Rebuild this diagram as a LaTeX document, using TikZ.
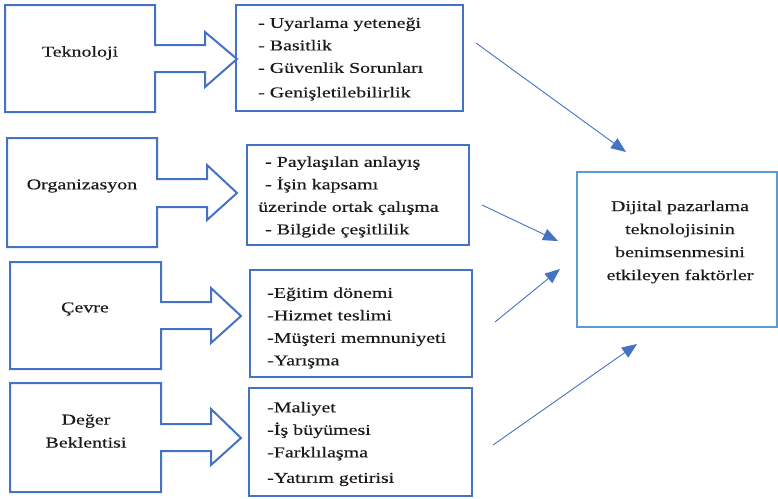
\documentclass[tikz,border=0pt]{standalone}
\usepackage{fontspec}
\setmainfont[FakeStretch=1.33,FakeBold=0.3]{Liberation Serif}
\usetikzlibrary{arrows.meta}
\definecolor{boxblue}{HTML}{4472C4}
\definecolor{lightblue}{HTML}{5B9BD5}
\definecolor{txt}{HTML}{1A1A1A}
\begin{document}
\begin{tikzpicture}[x=1pt,y=-1pt,
  outl/.style={draw=boxblue,line width=2pt,line join=miter},
  listbox/.style={draw=boxblue,line width=2pt,minimum width=#1,inner sep=0pt},
  lbl/.style={text=txt,font=\fontsize{15}{23}\selectfont,inner sep=0pt,align=center},
  items/.style={text=txt,font=\fontsize{15}{22.5}\selectfont,inner sep=0pt,align=left,anchor=west},
  conn/.style={draw=boxblue,line width=0.9pt,-{Triangle[length=15pt,width=12pt]}}]
\useasboundingbox (0,0) rectangle (778,498);
% left boxes with block arrows
\draw[outl] (5,5) -- (155,5) -- (155,45) -- (205,45) -- (205,32) -- (237,59) -- (205,87) -- (205,72) -- (155,72) -- (155,112) -- (5,112) -- cycle;
\draw[outl] (7,138) -- (157,138) -- (157,179) -- (207,179) -- (207,165) -- (237,193) -- (207,220) -- (207,207) -- (157,207) -- (157,247) -- (7,247) -- cycle;
\draw[outl] (10,262) -- (161,262) -- (161,302) -- (211,302) -- (211,288) -- (241,316) -- (211,343) -- (211,329) -- (161,329) -- (161,369) -- (10,369) -- cycle;
\draw[outl] (10,383) -- (161,383) -- (161,424) -- (211,424) -- (211,409) -- (241,438) -- (211,465) -- (211,451) -- (161,451) -- (161,492) -- (10,492) -- cycle;
\node[lbl] (tek) at (80,53) {Teknoloji};
\node[lbl] (org) at (82,186) {Organizasyon};
\node[lbl] (cev) at (85,309) {Çevre};
\node[lbl] (deg) at (86,431) {Değer\\Beklentisi};
% list boxes
\node[listbox=227pt,minimum height=106pt] (tekL) at (349.5,58) {};
\node[listbox=222pt,minimum height=100pt] (orgL) at (358,195) {};
\node[listbox=222pt,minimum height=107pt] (cevL) at (361,323.5) {};
\node[listbox=223pt,minimum height=108pt] (degL) at (360.5,442) {};
\node[items] (tekT) at (258,59) {- Uyarlama yeteneği\\- Basitlik\\- Güvenlik Sorunları\\[2pt]- Genişletilebilirlik};
\node[items] (orgT) at (258,197) {\hspace*{7pt}- Paylaşılan anlayış\\\hspace*{7pt}- İşin kapsamı\\üzerinde ortak çalışma\\\hspace*{7pt}- Bilgide çeşitlilik};
\node[items] (cevT) at (267,328) {-Eğitim dönemi\\-Hizmet teslimi\\-Müşteri memnuniyeti\\-Yarışma};
\node[items] (degT) at (267,444) {-Maliyet\\-İş büyümesi\\-Farklılaşma\\[3pt]-Yatırım getirisi};
% target box
\node[draw=lightblue,line width=2pt,minimum width=200pt,minimum height=155pt,inner sep=0pt] (res) at (677,249.5) {};
\node[lbl] (resT) at (680,242) {Dijital pazarlama\\teknolojisinin\\benimsenmesini\\etkileyen faktörler};
% connectors
\coordinate (s1) at (476,43);  \coordinate (e1) at (626,152);
\coordinate (s2) at (482,205); \coordinate (e2) at (558,241);
\coordinate (s3) at (495,322); \coordinate (e3) at (560,269);
\coordinate (s4) at (493,445); \coordinate (e4) at (637,344);
\draw[conn] (s1) -- (e1);
\draw[conn] (s2) -- (e2);
\draw[conn] (s3) -- (e3);
\draw[conn] (s4) -- (e4);
\end{tikzpicture}
\end{document}
